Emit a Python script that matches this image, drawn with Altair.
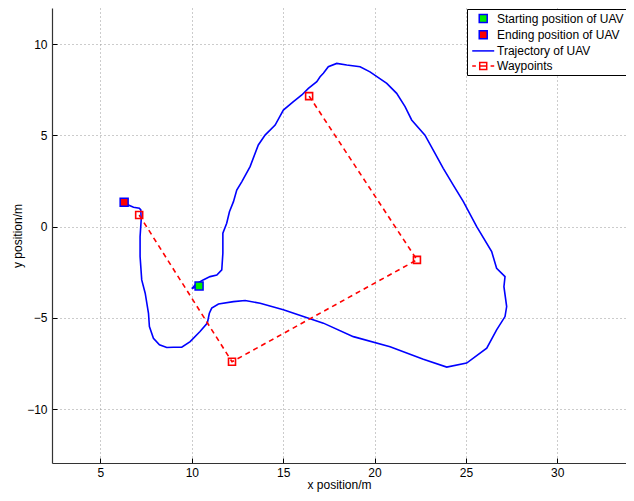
import altair as alt
import pandas as pd

# ---- data ----
traj_x = [10.40, 10.00, 10.24, 10.62, 11.00, 11.37, 11.64, 11.70, 11.70, 11.91, 12.06, 12.28,
          12.46, 12.74, 13.19, 13.64, 14.01, 14.56, 15.01, 15.56, 16.02, 16.38, 16.84, 17.02,
          17.20, 17.47, 17.93, 18.48, 19.21, 19.75, 20.67, 21.21, 21.67, 22.03, 22.76, 23.31,
          23.76, 24.31, 24.86, 25.59, 26.41, 26.68, 27.14, 27.08, 27.23, 27.14, 26.68, 26.14,
          25.04, 23.95, 22.67, 20.85, 18.84, 17.20, 15.01, 13.74, 12.92, 12.28, 11.46, 11.09,
          10.96, 10.85, 10.45, 9.91, 9.45, 8.99, 8.63, 8.23, 7.90, 7.68, 7.63, 7.45,
          7.26, 7.17, 7.17, 7.23, 7.21, 7.13, 6.81, 6.53, 6.30]
traj_y = [-3.25, -3.39, -3.14, -2.92, -2.74, -2.65, -2.37, -1.46, -0.36, 0.19, 0.82, 1.37,
          2.01, 2.47, 3.29, 4.48, 5.02, 5.57, 6.39, 6.85, 7.22, 7.58, 7.95, 8.22,
          8.41, 8.77, 8.95, 8.86, 8.77, 8.49, 7.86, 7.31, 6.58, 5.85, 5.02, 4.02,
          3.20, 2.28, 1.37, 0.00, -1.37, -2.28, -2.74, -3.29, -4.38, -4.93, -5.66, -6.66,
          -7.48, -7.70, -7.27, -6.58, -6.03, -5.29, -4.56, -4.20, -4.05, -4.11, -4.24, -4.47,
          -4.75, -5.29, -5.75, -6.30, -6.61, -6.61, -6.63, -6.48, -6.12, -5.48, -4.75, -3.65,
          -2.92, -1.64, -0.55, 0.37, 0.92, 1.01, 1.06, 1.19, 1.34]

wp_x = [7.12, 12.20, 22.32, 16.42]
wp_y = [0.64, -7.41, -1.82, 7.16]

start_xy = [10.40, -3.25]
end_xy = [6.30, 1.34]

series_names = ["Starting position of UAV", "Ending position of UAV",
                "Trajectory of UAV", "Waypoints"]
x_ticks = [5, 10, 15, 20, 25, 30]
y_ticks = [-10, -5, 0, 5, 10]

BLUE = "#0000ff"
RED = "#ff0000"
GREEN = "#00ee00"

# ---- tables ----
df_traj = pd.DataFrame({"x": traj_x, "y": traj_y, "i": range(len(traj_x))})
df_wp = pd.DataFrame({"x": wp_x, "y": wp_y, "i": range(len(wp_x))})
df_se = pd.DataFrame({"x": [start_xy[0], end_xy[0]], "y": [start_xy[1], end_xy[1]],
                      "series": series_names[:2]})

FONT = "Liberation Sans"

# legend symbol paths (shifted right inside the legend slot; plot markers compensate via xOffset)
sq = "M0.39,-0.57H1.53V0.57H0.39Z"
line_path = "M-0.61,0H2.53"
wp_path = "M-0.61,0H-0.09M0.46,-0.5H1.46V0.5H0.46ZM0.46,0H1.46M2.01,0H2.53"

stroke_scale = alt.Scale(domain=series_names, range=[BLUE, BLUE, BLUE, RED])
fill_scale = alt.Scale(domain=series_names, range=[GREEN, RED, "transparent", "transparent"])
shape_scale = alt.Scale(domain=series_names, range=[sq, sq, line_path, wp_path])

xs = alt.Scale(domain=[2.35, 33.76], nice=False, zero=False)
ys = alt.Scale(domain=[-12.96, 11.99], nice=False, zero=False)

x_axis = alt.Axis(values=x_ticks, title="x position/m", grid=True, tickSize={"expr": "-5"},
                  labelPadding=9, titlePadding=1)
y_axis = alt.Axis(values=y_ticks, title="y position/m", grid=True, tickSize={"expr": "-5"},
                  labelPadding=10, titlePadding=2)

X = alt.X("x:Q", scale=xs, axis=x_axis)
Y = alt.Y("y:Q", scale=ys, axis=y_axis)

legend = alt.Legend(title=None, orient="none", legendX=415, legendY=1,
                    strokeColor="black", fillColor="white", padding=1.5,
                    labelFont=FONT, labelFontSize=12, labelColor="black",
                    symbolSize=196, symbolStrokeWidth=1.5, rowPadding=1.2, labelOffset=12.5)

traj = alt.Chart(df_traj).mark_line(strokeWidth=1.6, color=BLUE).encode(
    x=X, y=Y, order="i:Q")

wp_line = alt.Chart(df_wp).mark_line(strokeWidth=1.6, strokeDash=[5, 4], color=RED).encode(
    x=X, y=Y, order="i:Q")

wp_pts = alt.Chart(df_wp).mark_point(shape="square", size=49, strokeWidth=1.6,
                                     filled=False, opacity=1, color=RED).encode(
    x=X, y=Y)

se_pts = alt.Chart(df_se).mark_point(size=196, strokeWidth=1.5, filled=True, opacity=1,
                                     xOffset=-6.75).encode(
    x=X, y=Y,
    shape=alt.Shape("series:N", scale=shape_scale, legend=legend),
    fill=alt.Fill("series:N", scale=fill_scale, legend=legend),
    stroke=alt.Stroke("series:N", scale=stroke_scale, legend=legend))

chart = alt.layer(traj, wp_line, wp_pts, se_pts).properties(
    width=574, height=455,
    autosize=alt.AutoSizeParams(type="none"),
    padding={"left": 44, "top": 0, "right": 0, "bottom": 30},
).configure_view(stroke=None).configure_axis(
    labelFont=FONT, labelFontSize=12, labelColor="black",
    titleFont=FONT, titleFontSize=12, titleFontWeight="normal", titleColor="black",
    domainColor="#333333", domainWidth=1.2, tickColor="black", tickWidth=1,
    gridColor="#999999", gridDash=[1, 3], gridWidth=1, gridOpacity=1,
)

chart.save("out.html", embed_options={"renderer": "svg", "actions": False})
